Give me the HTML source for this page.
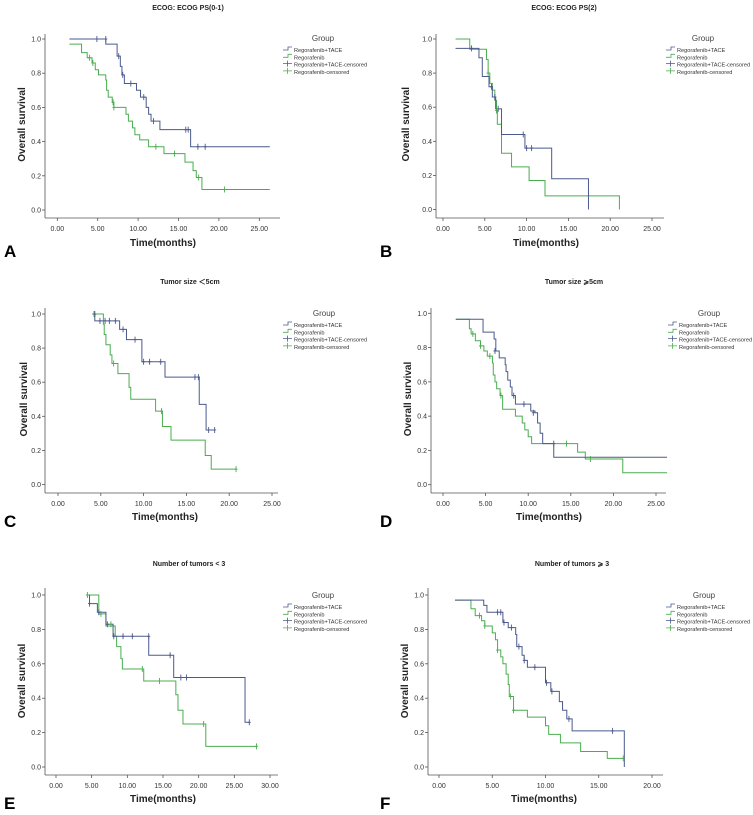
<!DOCTYPE html>
<html><head><meta charset="utf-8"><style>
html,body{margin:0;padding:0;background:#fff;}
svg{display:block;font-family:"Liberation Sans",sans-serif;}
</style></head><body>
<svg id="chart" width="753" height="815" viewBox="0 0 753 815" xmlns="http://www.w3.org/2000/svg"></svg>
<script>
// ---- data: [time, survival] step points (first = start) ----
const aTace=[[1.5,1.0],[6.0,0.97],[7.4,0.90],[7.8,0.84],[8.0,0.79],[8.3,0.74],[9.8,0.70],[10.3,0.66],[11.0,0.60],[11.3,0.56],[11.6,0.52],[12.7,0.47],[16.5,0.37]];
const aTaceCens=[[4.9,1.0],[6.0,1.0],[7.6,0.90],[8.1,0.79],[9.1,0.74],[10.7,0.66],[11.9,0.52],[15.9,0.47],[16.2,0.47],[17.4,0.37],[18.3,0.37]];
const aReg=[[1.5,0.97],[3.0,0.92],[3.7,0.89],[4.3,0.86],[4.7,0.82],[5.1,0.79],[6.0,0.76],[6.1,0.70],[6.3,0.66],[6.8,0.63],[7.0,0.60],[8.5,0.56],[8.8,0.52],[9.3,0.48],[9.6,0.44],[10.2,0.41],[11.3,0.37],[13.2,0.33],[15.8,0.28],[16.8,0.23],[17.2,0.19],[17.9,0.12]];
const aRegCens=[[4.0,0.89],[4.4,0.86],[6.9,0.63],[7.0,0.60],[12.2,0.37],[14.5,0.33],[17.5,0.19],[20.7,0.12]];
const bTace=[[1.5,0.945],[4.3,0.89],[4.7,0.78],[5.5,0.72],[5.9,0.66],[6.3,0.59],[7.0,0.44],[9.8,0.36],[13.0,0.18],[17.4,0.0]];
const bTaceCens=[[3.4,0.945],[5.8,0.72],[6.2,0.66],[6.6,0.59],[9.6,0.44],[10.0,0.36],[10.6,0.36]];
const bReg=[[1.5,1.0],[3.2,0.94],[5.2,0.88],[5.4,0.80],[5.6,0.74],[5.9,0.70],[6.2,0.64],[6.4,0.58],[6.5,0.50],[7.0,0.33],[8.2,0.25],[10.3,0.17],[12.2,0.08],[21.1,0.0]];
const bRegCens=[[5.4,0.80],[6.4,0.58]];
const cTace=[[4.0,1.0],[4.3,0.96],[7.2,0.91],[8.0,0.85],[9.8,0.72],[12.5,0.63],[16.5,0.47],[17.3,0.32]];
const cTaceCens=[[4.3,1.0],[4.9,0.96],[5.5,0.96],[6.0,0.96],[6.7,0.96],[7.6,0.91],[9.0,0.85],[10.0,0.72],[10.7,0.72],[12.0,0.72],[16.0,0.63],[16.4,0.63],[17.6,0.32],[18.3,0.32]];
const cReg=[[4.0,1.0],[5.3,0.94],[5.4,0.88],[5.6,0.82],[6.1,0.76],[6.3,0.71],[7.0,0.65],[8.3,0.57],[8.5,0.50],[11.4,0.43],[12.2,0.34],[13.2,0.26],[17.2,0.17],[17.9,0.09]];
const cRegCens=[[4.2,1.0],[6.5,0.71],[12.1,0.43],[20.8,0.09]];
const dTace=[[1.5,0.965],[4.7,0.89],[6.0,0.85],[6.2,0.78],[6.6,0.74],[7.3,0.70],[7.4,0.66],[7.6,0.61],[7.9,0.57],[8.1,0.52],[8.5,0.47],[10.3,0.43],[10.8,0.42],[11.1,0.36],[11.4,0.30],[11.7,0.24],[13.0,0.16]];
const dTaceCens=[[6.1,0.78],[8.3,0.52],[9.5,0.47],[10.6,0.42],[13.0,0.24]];
const dReg=[[1.5,0.965],[3.1,0.91],[3.3,0.88],[3.8,0.84],[4.4,0.81],[4.8,0.78],[5.2,0.75],[5.8,0.71],[5.9,0.64],[6.1,0.60],[6.3,0.56],[6.7,0.52],[7.0,0.44],[8.5,0.40],[9.3,0.36],[9.6,0.32],[10.0,0.28],[10.4,0.24],[15.8,0.19],[16.7,0.15],[21.1,0.07]];
const dRegCens=[[3.5,0.88],[4.4,0.81],[5.5,0.75],[6.8,0.52],[14.5,0.24],[17.3,0.15]];
const eTace=[[4.5,1.0],[4.7,0.95],[5.8,0.90],[7.0,0.83],[8.0,0.76],[13.0,0.65],[16.5,0.52],[26.5,0.26]];
const eTaceCens=[[4.7,0.95],[6.0,0.90],[7.2,0.83],[8.1,0.76],[9.4,0.76],[10.7,0.76],[13.0,0.76],[16.0,0.65],[17.5,0.52],[18.3,0.52],[27.1,0.26]];
const eReg=[[4.4,1.0],[6.0,0.89],[7.0,0.82],[8.3,0.76],[8.5,0.70],[9.1,0.63],[9.3,0.57],[12.3,0.50],[16.8,0.42],[17.1,0.33],[17.8,0.25],[21.0,0.12]];
const eRegCens=[[4.4,1.0],[6.3,0.89],[7.7,0.83],[12.1,0.57],[14.5,0.50],[20.7,0.25],[28.1,0.12]];
const fTace=[[1.5,0.97],[4.2,0.94],[4.5,0.90],[6.0,0.84],[6.5,0.81],[7.2,0.77],[7.3,0.70],[7.8,0.65],[8.0,0.62],[8.3,0.58],[10.0,0.49],[10.5,0.44],[11.3,0.38],[11.6,0.33],[12.0,0.28],[12.5,0.21],[17.4,0.0]];
const fTaceCens=[[5.5,0.90],[5.8,0.90],[6.1,0.84],[6.8,0.81],[7.5,0.70],[8.0,0.62],[9.0,0.58],[10.1,0.49],[10.6,0.44],[12.2,0.28],[16.3,0.21]];
const fReg=[[1.5,0.97],[3.0,0.92],[3.4,0.88],[4.0,0.85],[4.3,0.82],[5.0,0.78],[5.3,0.74],[5.5,0.68],[5.8,0.64],[6.0,0.60],[6.3,0.54],[6.5,0.48],[6.6,0.41],[7.0,0.33],[8.3,0.29],[10.0,0.24],[10.3,0.19],[11.4,0.14],[13.3,0.09],[15.8,0.05]];
const fRegCens=[[3.8,0.88],[4.3,0.82],[5.5,0.68],[6.7,0.41],[7.0,0.33],[17.3,0.05]];
const yTickLabels=["0.0","0.2","0.4","0.6","0.8","1.0"];
const xTicks25=[0,5,10,15,20,25];
const xTicks30=[0,5,10,15,20,25,30];
const xTicks20=[0,5,10,15,20];
const legendLabels=["Regorafenib+TACE","Regorafenib","Regorafenib+TACE-censored","Regorafenib-censored"];

const NS="http://www.w3.org/2000/svg";
const svg=document.getElementById('chart');
const TC="#4b5a8c", RC="#49ad4f";
function mk(tag,at,parent){const e=document.createElementNS(NS,tag);for(const k in at)e.setAttribute(k,at[k]);(parent||svg).appendChild(e);return e;}

const panels=[
 {id:'a',L:'A',title:'ECOG: ECOG PS(0-1)',ox:0,oy:0,ax:45,ayTop:34,axY:218,y1:39,y0:210,x0:57.3,xr:25,xp:259.3,xend:280,ticks:xTicks25,tace:aTace,taceC:aTaceCens,reg:aReg,regC:aRegCens,tEnd:26.3,rEnd:26.3,tx:188,ty:10,xtx:163,xty:246,ytx:25,gx:323,gy:38,lx:294,ly:50,lb:257},
 {id:'b',L:'B',title:'ECOG: ECOG PS(2)',ox:376,oy:0,ax:60,ayTop:34,axY:218,y1:39,y0:209.5,x0:67,xr:25,xp:276,xend:288,ticks:xTicks25,tace:bTace,taceC:bTaceCens,reg:bReg,regC:bRegCens,tEnd:17.4,rEnd:21.1,tx:188,ty:10,xtx:170,xty:246,ytx:33,gx:327,gy:38,lx:301,ly:50,lb:257},
 {id:'c',L:'C',title:'Tumor size ＜5cm',ox:0,oy:270,ax:45,ayTop:38,axY:223,y1:44,y0:214.5,x0:58,xr:25,xp:272,xend:278,ticks:xTicks25,tace:cTace,taceC:cTaceCens,reg:cReg,regC:cRegCens,tEnd:18.3,rEnd:20.8,tx:190,ty:14,xtx:165,xty:250,ytx:27,gx:324,gy:43,lx:294,ly:55,lb:257},
 {id:'d',L:'D',title:'Tumor size ⩾5cm',ox:376,oy:270,ax:55,ayTop:38,axY:223,y1:43.3,y0:214.7,x0:67,xr:25,xp:280,xend:290,ticks:xTicks25,tace:dTace,taceC:dTaceCens,reg:dReg,regC:dRegCens,tEnd:26.3,rEnd:26.3,tx:198,ty:14,xtx:173,xty:250,ytx:35,gx:333,gy:43,lx:303,ly:55,lb:257},
 {id:'e',L:'E',title:'Number of tumors < 3',ox:0,oy:540,ax:45,ayTop:48,axY:235,y1:55,y0:227,x0:56,xr:30,xp:270,xend:278,ticks:xTicks30,tace:eTace,taceC:eTaceCens,reg:eReg,regC:eRegCens,tEnd:27.1,rEnd:28.1,tx:189,ty:26,xtx:163,xty:262,ytx:25,gx:323,gy:55,lx:294,ly:67,lb:269},
 {id:'f',L:'F',title:'Number of tumors ⩾ 3',ox:376,oy:540,ax:52,ayTop:48,axY:235,y1:55,y0:227,x0:63,xr:20,xp:276,xend:287,ticks:xTicks20,tace:fTace,taceC:fTaceCens,reg:fReg,regC:fRegCens,tEnd:17.4,rEnd:17.3,tx:196,ty:26,xtx:168,xty:262,ytx:32,gx:328,gy:55,lx:301,ly:67,lb:269}
];

function drawPanel(p){
 const g=mk('g',{transform:`translate(${p.ox},${p.oy})`});
 
 
 const X=t=>p.x0+t*(p.xp-p.x0)/p.xr;
 const Y=s=>p.y0-s*(p.y0-p.y1);
 let e;
 e=mk('text',{x:p.tx,y:p.ty,'text-anchor':'middle','font-size':7,'font-weight':'bold',fill:'#222'},g);e.textContent=p.title;
 
 e=mk('line',{x1:p.ax,y1:p.ayTop,x2:p.ax,y2:p.axY,stroke:'#555','stroke-width':0.8},g);
 
 e=mk('line',{x1:p.ax,y1:p.axY,x2:p.xend,y2:p.axY,stroke:'#555','stroke-width':0.8},g);
 
 yTickLabels.forEach((lab,i)=>{const s=i*0.2;
  mk('line',{x1:p.ax-3,y1:Y(s),x2:p.ax,y2:Y(s),stroke:'#555','stroke-width':0.8},g);
  const t=mk('text',{x:p.ax-4,y:Y(s)+2.5,'text-anchor':'end','font-size':7,fill:'#333'},g);t.textContent=lab;
  });
 p.ticks.forEach(v=>{
  mk('line',{x1:X(v),y1:p.axY,x2:X(v),y2:p.axY+3,stroke:'#555','stroke-width':0.8},g);
  const t=mk('text',{x:X(v),y:p.axY+13,'text-anchor':'middle','font-size':7,fill:'#333'},g);t.textContent=v.toFixed(2);
  });
 e=mk('text',{x:p.xtx,y:p.xty,'text-anchor':'middle','font-size':10,'font-weight':'bold',fill:'#222'},g);e.textContent='Time(months)';
 
 const yc=(p.y0+p.y1)/2;
 e=mk('text',{x:p.ytx,y:yc,'text-anchor':'middle','font-size':10,'font-weight':'bold',fill:'#222',transform:`rotate(-90 ${p.ytx} ${yc})`},g);e.textContent='Overall survival';
 
 e=mk('text',{x:4,y:p.lb,'font-size':17,'font-weight':'bold',fill:'#000'},g);e.textContent=p.L;
 
 function curve(pts,end,col,name){let d=`M${X(pts[0][0])},${Y(pts[0][1])}`;
  for(let i=1;i<pts.length;i++)d+=`H${X(pts[i][0])}V${Y(pts[i][1])}`;
  d+=`H${X(end)}`;
  const c=mk('path',{d:d,fill:'none',stroke:col,'stroke-width':1},g);
  }
 function cens(pts,col,name){pts.forEach(q=>{
  const c=mk('path',{d:`M${X(q[0])},${Y(q[1])-3}V${Y(q[1])+3}M${X(q[0])-1.5},${Y(q[1])}H${X(q[0])+1.5}`,stroke:col,'stroke-width':0.9,fill:'none'},g);
  });}
 curve(p.reg,p.rEnd,RC,'regorafenib-curve');
 curve(p.tace,p.tEnd,TC,'regorafenib-tace-curve');
 cens(p.regC,RC,'regorafenib-censor-mark');
 cens(p.taceC,TC,'regorafenib-tace-censor-mark');
 const lg=mk('g',{},g);
 
 e=mk('text',{x:p.gx,y:p.gy+3,'text-anchor':'middle','font-size':8,fill:'#444'},lg);e.textContent='Group';
 
 legendLabels.forEach((lab,i)=>{const yy=p.ly+i*7.3;const col=(i%2===0)?TC:RC;const sx=p.lx-11;
  if(i<2)mk('path',{d:`M${sx},${yy}H${sx+5}V${yy-3}H${sx+9}`,stroke:col,fill:'none','stroke-width':0.8},lg);
  else mk('path',{d:`M${sx},${yy-1}H${sx+9}M${sx+4.5},${yy-4}V${yy+2}`,stroke:col,fill:'none','stroke-width':0.8},lg);
  const t=mk('text',{x:p.lx,y:yy+2,'font-size':5.6,fill:'#333'},lg);t.textContent=lab;
  });
}
panels.forEach(drawPanel);
</script>
</body></html>
